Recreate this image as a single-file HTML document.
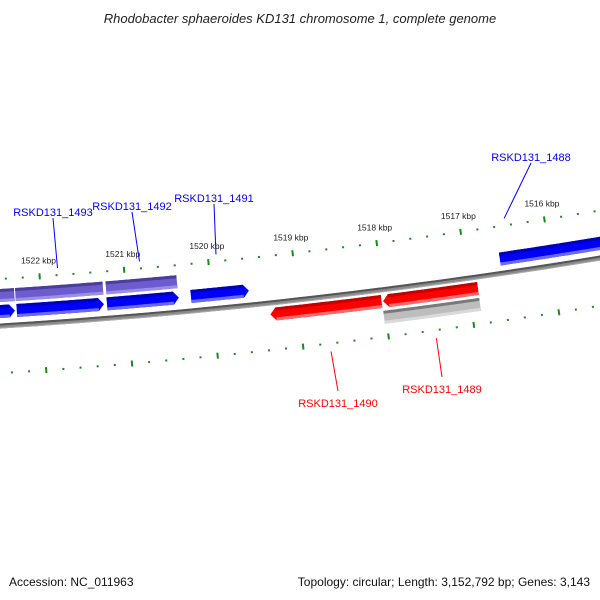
<!DOCTYPE html>
<html><head><meta charset="utf-8"><style>
html,body{margin:0;padding:0;background:#fff;}
svg{display:block;font-family:"Liberation Sans",sans-serif;}
</style></head><body>
<svg id="map" width="600" height="600" viewBox="0 0 600 600">
<text x="300" y="23" text-anchor="middle" font-style="italic" font-size="13" fill="#222">Rhodobacter sphaeroides KD131 chromosome 1, complete genome</text>
<text x="9" y="586" font-size="12" fill="#111">Accession: NC_011963</text>
<text x="590" y="586" text-anchor="end" font-size="12" fill="#111">Topology: circular; Length: 3,152,792 bp; Genes: 3,143</text>
<g id="ticks"></g>
<g id="genes"></g>
<g id="labels"></g>
</svg>
<script>
// gene data (kbp)
const geneNames = ["b1","RSKD131_1493","RSKD131_1492","RSKD131_1491","RSKD131_1488","p1a","p1b","p2","RSKD131_1490","RSKD131_1489","g1"];
const geneStart = [1522.6,1522.296,1521.234,1520.244,1516.589,1522.6,1522.300,1521.231,1519.339,1518.012,1518.024];
const geneEnd   = [1522.317,1521.269,1520.386,1519.560,1515.0,1522.312,1521.266,1520.392,1518.030,1516.892,1516.894];
const geneTrack = ["blue","blue","blue","blue","blue","purple","purple","purple","red","red","gray"];
const tickStart = 1525, tickEnd = 1514, tickStep = 0.2;
const labelNames = ["RSKD131_1493","RSKD131_1492","RSKD131_1491","RSKD131_1488","RSKD131_1490","RSKD131_1489"];
const labelX = [53,132,214,531,338,442];
const labelY = [216,210,202,161,407,393];

const cx=-379, cy=-5698, Rc=6036, K0=1522, PHI0=0.06996, DPHI=0.01414;
function pt(k,off){const p=PHI0+(K0-k)*DPHI, r=Rc+off;return [cx+r*Math.sin(p), cy+r*Math.cos(p)];}
const NS="http://www.w3.org/2000/svg";
function mk(tag,attrs,parent){const e=document.createElementNS(NS,tag);for(const a in attrs)e.setAttribute(a,attrs[a]);parent.appendChild(e);return e;}
function arcPts(k1,k2,off,n){const a=[];for(let i=0;i<=n;i++){a.push(pt(k1+(k2-k1)*i/n,off));}return a;}
function ps(a){return a.map(p=>p[0].toFixed(2)+","+p[1].toFixed(2)).join(" ");}

const tracks={
 blue:{o1:-21,o2:-8,main:"#0000ff",top:"#0000b4",bot:"#6a6aff",dir:1},
 purple:{o1:-37,o2:-24,main:"#6c5ccf",top:"#4a3e98",bot:"#9a8fe2",dir:0},
 red:{o1:5,o2:18,main:"#ff0000",top:"#c40000",bot:"#ff6a6a",dir:-1},
 gray:{o1:21,o2:34,main:"#bdbdbd",top:"#7a7a7a",bot:"#dadada",dir:0}
};
const ticksG=document.getElementById('ticks'), genesG=document.getElementById('genes'), labelsG=document.getElementById('labels');

// backbone
{const t=arcPts(1526,1513,-2.5,80), b=arcPts(1513,1526,2.5,80);
 const bb=mk('polygon',{points:ps(t.concat(b)),fill:'#8a8a8a'},genesG);
 
 
 const tl=mk('polyline',{points:ps(arcPts(1526,1513,-1.5,80)),fill:'none',stroke:'#555','stroke-width':2},genesG);
 
 
 const bl=mk('polyline',{points:ps(arcPts(1526,1513,2,80)),fill:'none',stroke:'#aaa','stroke-width':1},genesG);
 
 }

// ticks
for(let k=tickStart;k>=tickEnd-1e-9;k-=tickStep){
 const kk=Math.round(k*10)/10; const major=Math.abs(kk-Math.round(kk))<1e-6;
 [[-47,-1],[47,1]].forEach(([base,s])=>{
  const a=pt(kk,base-(major?3:1)), b=pt(kk,base+(major?3:1));
  const l=mk('line',{x1:a[0],y1:a[1],x2:b[0],y2:b[1],stroke:'#1a8a1a','stroke-width':2},ticksG);
  
  
 });
 if(major){const p=pt(kk,-63);
  const t=mk('text',{x:p[0],y:p[1]+3,'text-anchor':'middle','font-size':8.5,fill:'#222'},ticksG);
  t.textContent=Math.round(kk)+" kbp";
  
  }
}

// genes
const geneMid={};
for(let i=0;i<geneNames.length;i++){
 const tr=tracks[geneTrack[i]], k1=geneStart[i], k2=geneEnd[i], al=0.065, n=30;
 let pts;
 if(tr.dir===1){const ke=k2+al;pts=arcPts(k1,ke,tr.o1,n).concat([pt(k2,(tr.o1+tr.o2)/2)],arcPts(ke,k1,tr.o2,n));}
 else if(tr.dir===-1){const ks=k1-al;pts=[pt(k1,(tr.o1+tr.o2)/2)].concat(arcPts(ks,k2,tr.o1,n),arcPts(k2,ks,tr.o2,n));}
 else pts=arcPts(k1,k2,tr.o1,n).concat(arcPts(k2,k1,tr.o2,n));
 const g=mk('g',{},genesG);
 
 
 mk('polygon',{points:ps(pts),fill:tr.main},g);
 const sa=tr.dir===-1?k1-0.065:k1, sb=tr.dir===1?k2+0.065:k2;
 const top=mk('polyline',{points:ps(arcPts(sa,sb,tr.o1+1.5,n)),fill:'none',stroke:tr.top,'stroke-width':3},g);
 
 
 const bot=mk('polyline',{points:ps(arcPts(sa,sb,tr.o2-1.5,n)),fill:'none',stroke:tr.bot,'stroke-width':3},g);
 
 
 geneMid[geneNames[i]]=[(k1+k2)/2,tr.dir===-1?tr.o2+37:tr.o1-33,tr];
}
// special: 1488 label points to its start region
geneMid["RSKD131_1488"][0]=geneStart[4]-0.12;

// labels
for(let i=0;i<labelNames.length;i++){
 const m=geneMid[labelNames[i]], col=m[2].dir===-1?'#ff0000':'#0000ff';
 const p=pt(m[0],m[1]); const ly=m[2].dir===-1?labelY[i]-16:labelY[i]+2;
 const l=mk('line',{x1:p[0],y1:p[1],x2:labelX[i],y2:ly,stroke:col,'stroke-width':1},labelsG);
 
 
 const t=mk('text',{x:labelX[i],y:labelY[i],'text-anchor':'middle','font-size':11,fill:col},labelsG);
 t.textContent=labelNames[i];
 
 
}
</script>
</body></html>
